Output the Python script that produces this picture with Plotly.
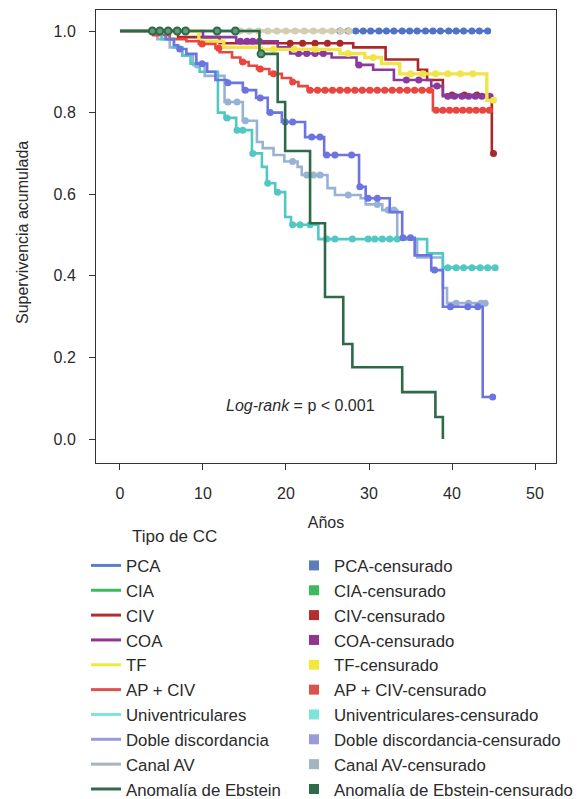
import plotly.graph_objects as go

# ---------------- data ----------------
groups = ["PCA", "CIA", "CIV", "COA", "TF", "AP + CIV", "Univentriculares",
          "Doble discordancia", "Canal AV", "Anomalía de Ebstein"]

pca_t = [0.0]
pca_s = [1.0]
pca_end = 44.3
pca_cens = [26.5, 27.5, 28.4, 29.3, 30.2, 31.2, 32.1, 33.0, 34.0, 34.9, 35.8,
            36.8, 37.7, 38.6, 39.6, 40.5, 41.4, 42.4, 43.3, 44.3]

cia_t = [0.0]
cia_s = [1.0]
cia_end = 28.0
cia_cens = [14.5, 15.6, 16.7, 17.8, 18.9, 20.0, 21.1, 22.2, 23.3, 24.4, 25.5, 26.6, 27.6]

civ_t = [0.0, 7.0, 12.0, 28.1, 32.0, 35.9, 37.0, 38.9, 44.8]
civ_s = [1.0, 0.985, 0.97, 0.96, 0.93, 0.905, 0.88, 0.843, 0.70]
civ_end = 45.0
civ_cens = [20.5, 22.0, 23.5, 25.0, 26.5, 40.0, 41.5, 43.0, 45.0]

coa_t = [0.0, 10.0, 14.0, 19.0, 20.5, 25.5, 28.5, 30.5, 33.0, 37.5, 38.9]
coa_s = [1.0, 0.985, 0.975, 0.96, 0.945, 0.935, 0.917, 0.905, 0.88, 0.865, 0.84]
coa_end = 45.0
coa_cens = [14.5, 15.3, 16.0, 16.8, 21.5, 22.5, 23.5, 24.5, 28.8, 34.5, 36.0,
            38.2, 39.5, 40.3, 41.2, 42.0, 42.8, 43.6, 44.5]

tf_t = [0.0, 9.5, 12.5, 17.0, 26.5, 29.5, 31.5, 33.7, 44.2]
tf_s = [1.0, 0.975, 0.96, 0.955, 0.945, 0.935, 0.92, 0.895, 0.83]
tf_end = 45.0
tf_cens = [18.5, 21.0, 23.5, 27.5, 30.5, 35.0, 36.5, 38.0, 39.5, 41.0, 42.5, 45.0]

apciv_t = [0.0, 4.0, 6.0, 8.0, 9.5, 11.5, 12.0, 13.5, 14.5, 15.5, 16.5, 18.0,
           19.5, 20.6, 21.5, 22.6, 37.7]
apciv_s = [1.0, 0.99, 0.98, 0.975, 0.968, 0.958, 0.948, 0.935, 0.924, 0.915,
           0.907, 0.895, 0.885, 0.875, 0.865, 0.855, 0.806]
apciv_end = 44.9
apciv_cens = [9.9, 11.9, 14.8, 16.9, 18.5, 20.8, 22.9, 23.8, 24.7, 25.6, 26.5,
              27.4, 28.3, 29.2, 30.1, 31.0, 31.9, 32.8, 33.7, 34.6, 35.5, 36.4,
              37.3, 38.1, 38.9, 39.7, 40.5, 41.3, 42.1, 42.9, 43.7, 44.5]

univ_t = [0.0, 5.0, 6.5, 7.5, 8.5, 9.6, 11.8, 12.6, 14.0, 15.9, 17.1, 17.7,
          18.7, 19.9, 20.6, 23.9, 37.0, 38.9]
univ_s = [1.0, 0.98, 0.96, 0.94, 0.92, 0.90, 0.80, 0.787, 0.757, 0.70, 0.667,
          0.627, 0.605, 0.544, 0.525, 0.49, 0.455, 0.42]
univ_end = 45.2
univ_cens = [12.9, 14.1, 14.8, 16.0, 17.8, 19.0, 20.8, 21.7, 22.9, 24.9, 25.9,
             28.0, 29.9, 30.7, 31.6, 32.5, 33.4, 39.5, 40.5, 41.4, 42.4, 43.4,
             44.3, 45.2]

doble_t = [0.0, 5.5, 6.5, 7.0, 8.0, 9.2, 10.5, 11.5, 12.8, 14.8, 16.4, 17.8,
           19.5, 22.3, 24.6, 28.8, 29.6, 32.5, 34.0, 35.5, 37.5, 38.9, 43.7]
doble_s = [1.0, 0.98, 0.965, 0.956, 0.944, 0.92, 0.90, 0.88, 0.873, 0.855,
           0.836, 0.80, 0.777, 0.74, 0.696, 0.618, 0.59, 0.556, 0.493, 0.45,
           0.414, 0.324, 0.103]
doble_end = 44.9
doble_cens = [7.2, 9.9, 13.0, 15.1, 16.9, 18.1, 19.9, 20.8, 23.1, 24.1, 24.9,
              25.9, 27.9, 28.9, 29.9, 31.0, 34.1, 35.0, 37.9, 39.8, 41.9, 43.1, 44.9]

canal_t = [0.0, 4.5, 6.0, 7.5, 8.8, 10.2, 12.6, 14.8, 16.5, 17.2, 18.5, 19.8,
           21.4, 21.9, 25.0, 25.9, 29.0, 29.6, 31.6, 33.4, 35.8, 38.9, 39.4]
canal_s = [1.0, 0.98, 0.96, 0.94, 0.917, 0.89, 0.826, 0.78, 0.728, 0.713,
           0.696, 0.68, 0.667, 0.647, 0.615, 0.598, 0.59, 0.575, 0.561, 0.49,
           0.445, 0.37, 0.333]
canal_end = 44.0
canal_cens = [9.3, 13.0, 14.1, 15.1, 20.8, 22.5, 23.3, 24.1, 27.5, 31.0, 32.3,
              33.0, 40.5, 42.0, 43.5, 44.0]

ebstein_t = [0.0, 16.8, 19.0, 19.9, 22.9, 24.7, 26.9, 28.0, 34.0, 38.0, 38.9]
ebstein_s = [1.0, 0.944, 0.826, 0.706, 0.529, 0.348, 0.233, 0.176, 0.115, 0.054, 0.0]
ebstein_end = 38.9
ebstein_cens = [3.9, 4.8, 5.8, 6.9, 7.9, 11.7, 13.9, 17.0]

# colours
plot_colors = ["#4f73c6", "#d2cfae", "#a8282c", "#8a3a9c", "#f0e448", "#e8463f",
               "#52c8c4", "#6b74e0", "#98b2d6", "#2e6a47"]
legend_line_colors = ["#5b80c8", "#3dba5e", "#b0302f", "#8e3590", "#f2e83a",
                      "#e05050", "#7ee3dc", "#9b9bdc", "#a2b6be", "#2f6b4a"]
legend_sq_colors = ["#5b7db8", "#3dba5e", "#b0302f", "#8e3590", "#f3e93b",
                    "#d9534f", "#7ee3dc", "#9a9ad8", "#a2b6be", "#2f6b4a"]

series = {
    "PCA": (pca_t, pca_s, pca_end, pca_cens),
    "CIA": (cia_t, cia_s, cia_end, cia_cens),
    "CIV": (civ_t, civ_s, civ_end, civ_cens),
    "COA": (coa_t, coa_s, coa_end, coa_cens),
    "TF": (tf_t, tf_s, tf_end, tf_cens),
    "AP + CIV": (apciv_t, apciv_s, apciv_end, apciv_cens),
    "Univentriculares": (univ_t, univ_s, univ_end, univ_cens),
    "Doble discordancia": (doble_t, doble_s, doble_end, doble_cens),
    "Canal AV": (canal_t, canal_s, canal_end, canal_cens),
    "Anomalía de Ebstein": (ebstein_t, ebstein_s, ebstein_end, ebstein_cens),
}


def surv_at(times, surv, t):
    val = surv[0]
    for ti, si in zip(times, surv):
        if ti <= t:
            val = si
    return val


fig = go.Figure()

draw_order = ["PCA", "CIA", "Canal AV", "CIV", "COA", "TF", "AP + CIV",
              "Univentriculares", "Doble discordancia", "Anomalía de Ebstein"]
line_w = {"TF": 3.4}
for name in draw_order:
    i = groups.index(name)
    t, s, end, cens = series[name]
    col = plot_colors[i]
    fig.add_trace(go.Scatter(x=t + [end], y=s + [s[-1]], mode="lines",
                             line=dict(color=col, width=line_w.get(name, 2.6), shape="hv"),
                             showlegend=False, hoverinfo="skip"))
    cy = [surv_at(t, s, c) for c in cens]
    mk = dict(color=col, size=7, symbol="circle")
    if name == "Anomalía de Ebstein":
        mk = dict(color="#5f9a78", size=7, symbol="circle",
                  line=dict(color=col, width=2))
    fig.add_trace(go.Scatter(x=cens, y=cy, mode="markers", marker=mk,
                             showlegend=False, hoverinfo="skip"))

# legend entries (placed outside the plotted range so they draw nothing)
for i, name in enumerate(groups):
    fig.add_trace(go.Scatter(x=[-100], y=[-100], mode="lines", name=name,
                             line=dict(color=legend_line_colors[i], width=3, shape="hv"),
                             legend="legend", showlegend=True, hoverinfo="skip"))
for i, name in enumerate(groups):
    fig.add_trace(go.Scatter(x=[-100], y=[-100], mode="markers",
                             name=name + "-censurado",
                             marker=dict(color=legend_sq_colors[i], size=10, symbol="square"),
                             legend="legend2", showlegend=True, hoverinfo="skip"))

txt = "#2a2a2a"
fig.update_layout(
    width=581, height=799,
    margin=dict(l=96, r=25, t=10, b=336, autoexpand=False),
    plot_bgcolor="white", paper_bgcolor="white",
    font=dict(family="Liberation Sans, Arial, sans-serif", size=16, color=txt),
    xaxis=dict(range=[-2.89, 52.53], autorange=False, tickvals=[0, 10, 20, 30, 40, 50],
               ticks="outside", ticklen=6, tickcolor="#333", showline=True,
               linecolor="#333", linewidth=1, mirror=True, showgrid=False,
               zeroline=False, ticklabelstandoff=10,
               tickfont=dict(size=16, color=txt),
               title=dict(text="Años", font=dict(size=16, color=txt))),
    yaxis=dict(range=[-0.0588, 1.0515], autorange=False,
               tickvals=[0, 0.2, 0.4, 0.6, 0.8, 1.0],
               tickformat=".1f", ticks="outside", ticklen=6, tickcolor="#333",
               showline=True, linecolor="#333", linewidth=1, mirror=True,
               showgrid=False, zeroline=False, ticklabelstandoff=10,
               tickfont=dict(size=16, color=txt)),
    legend=dict(xref="container", yref="container", x=86 / 581, y=1 - 548 / 799,
                xanchor="left", yanchor="top", itemwidth=30,
                font=dict(size=16.8, color=txt), bgcolor="rgba(0,0,0,0)",
                traceorder="normal"),
    legend2=dict(xref="container", yref="container", x=294 / 581, y=1 - 548 / 799,
                 xanchor="left", yanchor="top", itemwidth=30,
                 font=dict(size=16.8, color=txt), bgcolor="rgba(0,0,0,0)",
                 traceorder="normal"),
    annotations=[
        dict(x=21.7, y=0.083, xref="x", yref="y", showarrow=False,
             text="<i>Log-rank</i> = p &lt; 0.001",
             font=dict(size=16, color=txt)),
        dict(x=(130 - 96) / 460, y=1 - (536 - 10) / 453, xref="paper", yref="paper",
             xanchor="left", yanchor="middle", showarrow=False,
             text="Tipo de CC", font=dict(size=17, color=txt)),
        dict(x=(22 - 96) / 460, y=1 - (233 - 10) / 453, xref="paper", yref="paper",
             xanchor="center", yanchor="middle", showarrow=False, textangle=-90,
             text="Supervivencia acumulada", font=dict(size=16, color=txt)),
    ],
)

fig.write_html("out.html")
